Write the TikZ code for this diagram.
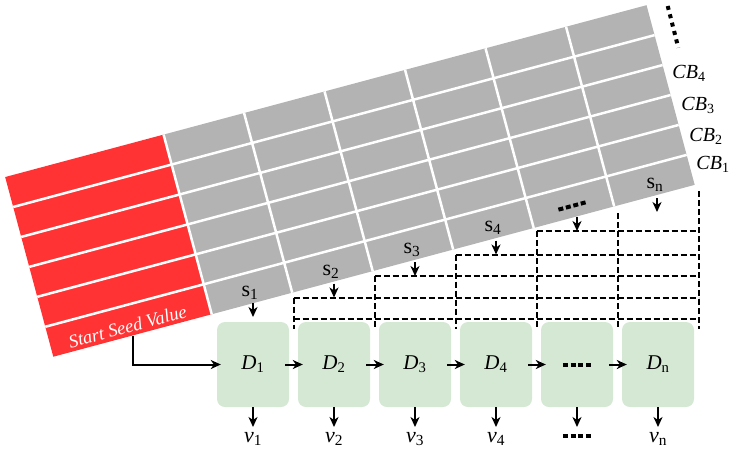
\documentclass[tikz,border=0pt]{standalone}
\usepackage{fontspec}
\setmainfont{Liberation Serif}
\usetikzlibrary{arrows.meta}
\definecolor{redc}{RGB}{255,51,51}
\definecolor{grayc}{RGB}{179,179,179}
\definecolor{greenc}{RGB}{213,232,212}
\newcommand{\fourdots}{\rule{5pt}{4pt}\hspace{2.7pt}\rule{5pt}{4pt}\hspace{2.7pt}\rule{5pt}{4pt}\hspace{2.7pt}\rule{5pt}{4pt}}
\newcommand{\ilab}[2]{\textit{#1}\textsubscript{#2}}
\begin{document}
\begin{tikzpicture}[x=1pt,y=-1pt,
  every node/.style={inner sep=0pt,font=\fontsize{21}{24}\selectfont},
  slab/.style={font=\fontsize{22}{24}\selectfont},
  cblab/.style={font=\fontsize{20}{24}\selectfont},
  dbox/.style={rounded corners=8pt,fill=greenc,minimum width=72pt,minimum height=85pt},
  arr/.style={line width=2pt,-{Stealth[length=10pt,width=9pt,inset=3pt]}},
  dline/.style={line width=2pt,dash pattern=on 6pt off 3pt},
  sep/.style={white,line width=2.5pt},
  vdots/.style={line width=4pt,dash pattern=on 4pt off 4.6pt},
]
\useasboundingbox (0,0) rectangle (730,456);
% slanted grid
\begin{scope}[shift={(53.3,356.7)},rotate=15]
  \fill[redc] (0,0) rectangle (164,-186);
  \fill[grayc] (164,0) rectangle (664,-186);
  \foreach \k in {1,...,5} \draw[sep] (0,-31*\k) -- (664,-31*\k);
  \foreach \c in {0,...,5} \draw[sep] (164+83.333*\c,0) -- (164+83.333*\c,-186);
\end{scope}
\draw[vdots] (667.7,6) -- (678.3,47.7);
\node[rotate=15,text=white,font=\fontsize{18.5}{22}\selectfont\itshape] (seedtxt) at (127.5,326.5) {Start Seed Value};
\node[cblab] (cb4) at (689,73) {\ilab{CB}{4}};
\node[cblab] (cb3) at (698,105) {\ilab{CB}{3}};
\node[cblab] (cb2) at (706,136) {\ilab{CB}{2}};
\node[cblab] (cb1) at (713,164) {\ilab{CB}{1}};
% s labels
\node[slab] (s1) at (250,293) {s\textsubscript{1}};
\node[slab] (s2) at (331,271.5) {s\textsubscript{2}};
\node[slab] (s3) at (412,249.5) {s\textsubscript{3}};
\node[slab] (s4) at (493,228) {s\textsubscript{4}};
\node[rotate=15] (s5) at (572,206) {\fourdots};
\node[slab] (s6) at (655,184.5) {s\textsubscript{n}};
% dashed staircase
\draw[dline] (293.5,319) -- (698.5,319);
\draw[dline] (293.5,297.5) -- (698.5,297.5);
\draw[dline] (374.5,276) -- (698.5,276);
\draw[dline] (455.5,254.5) -- (698.5,254.5);
\draw[dline] (536.5,231) -- (698.5,231);
\draw[dline] (293.5,297.5) -- (293.5,329);
\draw[dline] (374.5,276) -- (374.5,329);
\draw[dline] (455.5,254.5) -- (455.5,329);
\draw[dline] (536.5,231) -- (536.5,329);
\draw[dline] (617.5,213) -- (617.5,329);
\draw[dline] (698.5,191) -- (698.5,329);
% s arrows
\coordinate (a1) at (253,303);   \coordinate (t1) at (253,317);
\coordinate (a2) at (334,283.5); \coordinate (t2) at (334,297.5);
\coordinate (a3) at (415,262);   \coordinate (t3) at (415,276);
\coordinate (a4) at (496,240.5); \coordinate (t4) at (496,254.5);
\coordinate (a5) at (577,217);   \coordinate (t5) at (577,231);
\coordinate (a6) at (657,198);   \coordinate (t6) at (657,212);
\foreach \i in {1,...,6} \draw[arr] (a\i) -- (t\i);
% D boxes
\node[dbox] (d1) at (253,364.5) {\ilab{D}{1}};
\node[dbox] (d2) at (334,364.5) {\ilab{D}{2}};
\node[dbox] (d3) at (415,364.5) {\ilab{D}{3}};
\node[dbox] (d4) at (496,364.5) {\ilab{D}{4}};
\node[dbox] (d5) at (577,364.5) {\fourdots};
\node[dbox] (d6) at (658,364.5) {\ilab{D}{n}};
\foreach \a/\b in {d1/d2,d2/d3,d3/d4,d4/d5,d5/d6}
  \draw[arr] ([xshift=-4pt]\a.east) -- ([xshift=5pt]\b.west);
% seed connector
\coordinate (seed) at (133,335.5);
\draw[arr] (seed) |- ([xshift=4pt]d1.west);
% outputs
\node[anchor=north,slab] (v1) at (253,432) {\ilab{v}{1}};
\node[anchor=north,slab] (v2) at (334,432) {\ilab{v}{2}};
\node[anchor=north,slab] (v3) at (415,432) {\ilab{v}{3}};
\node[anchor=north,slab] (v4) at (496,432) {\ilab{v}{4}};
\node[anchor=north] (v5) at (577,434) {\fourdots};
\node[anchor=north,slab] (v6) at (658,432) {\ilab{v}{n}};
\draw[arr] (d1.south) -- ([yshift=5pt]v1.north);
\draw[arr] (d2.south) -- ([yshift=5pt]v2.north);
\draw[arr] (d3.south) -- ([yshift=5pt]v3.north);
\draw[arr] (d4.south) -- ([yshift=5pt]v4.north);
\draw[arr] (d5.south) -- ([yshift=7pt]v5.north);
\draw[arr] (d6.south) -- ([yshift=5pt]v6.north);
\end{tikzpicture}
\end{document}
